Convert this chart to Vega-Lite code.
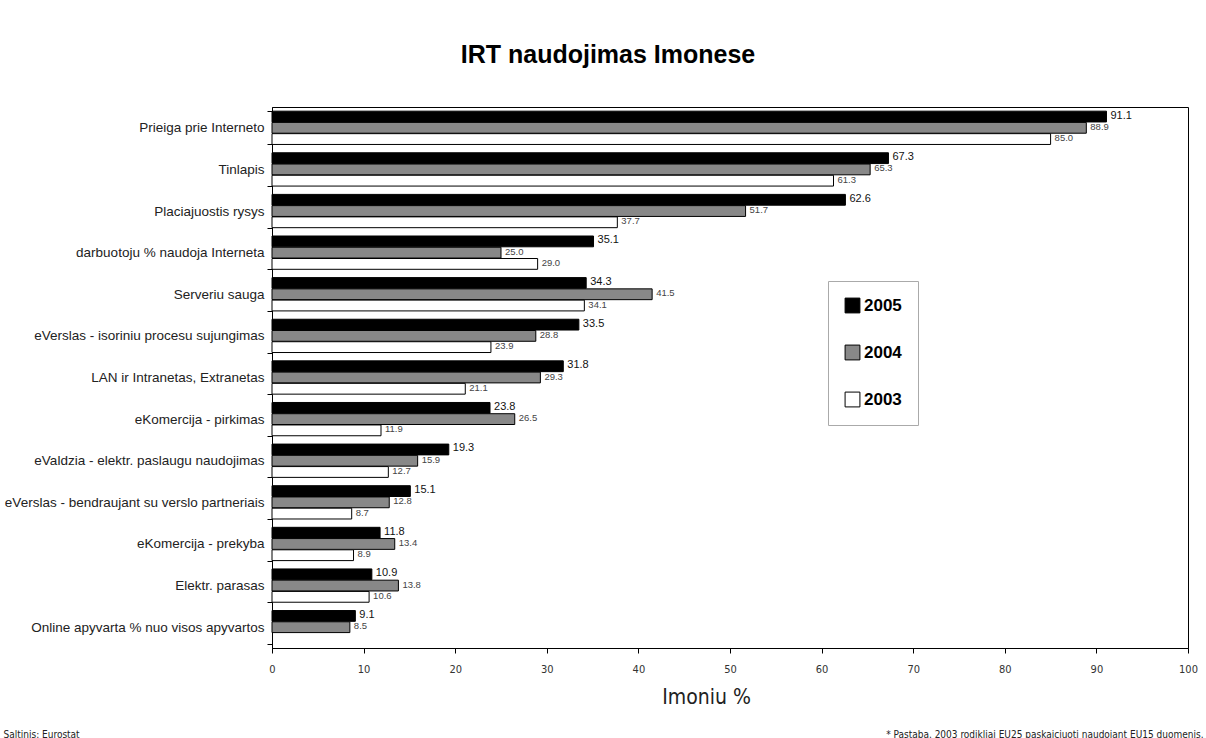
{
  "$schema": "https://vega.github.io/schema/vega-lite/v6.json",
  "autosize": {"type": "none"},
  "padding": {"left": 272, "top": 107, "right": 18, "bottom": 90},
  "width": 916,
  "height": 541,
  "background": "white",
  "config": {"font": "Liberation Sans", "view": {"stroke": "black", "strokeWidth": 1}},
  "title": {"text": "IRT naudojimas Imonese", "fontSize": 25, "fontWeight": "bold", "font": "Liberation Sans", "anchor": "middle", "dx": -122, "offset": 12, "baseline": "alphabetic", "color": "black"},
  "data": {"values": [
    {"category": "Prieiga prie Interneto", "year": "2005", "value": 91.1},
    {"category": "Prieiga prie Interneto", "year": "2004", "value": 88.9},
    {"category": "Prieiga prie Interneto", "year": "2003", "value": 85.0},
    {"category": "Tinlapis", "year": "2005", "value": 67.3},
    {"category": "Tinlapis", "year": "2004", "value": 65.3},
    {"category": "Tinlapis", "year": "2003", "value": 61.3},
    {"category": "Placiajuostis rysys", "year": "2005", "value": 62.6},
    {"category": "Placiajuostis rysys", "year": "2004", "value": 51.7},
    {"category": "Placiajuostis rysys", "year": "2003", "value": 37.7},
    {"category": "darbuotoju % naudoja Interneta", "year": "2005", "value": 35.1},
    {"category": "darbuotoju % naudoja Interneta", "year": "2004", "value": 25.0},
    {"category": "darbuotoju % naudoja Interneta", "year": "2003", "value": 29.0},
    {"category": "Serveriu sauga", "year": "2005", "value": 34.3},
    {"category": "Serveriu sauga", "year": "2004", "value": 41.5},
    {"category": "Serveriu sauga", "year": "2003", "value": 34.1},
    {"category": "eVerslas - isoriniu procesu sujungimas", "year": "2005", "value": 33.5},
    {"category": "eVerslas - isoriniu procesu sujungimas", "year": "2004", "value": 28.8},
    {"category": "eVerslas - isoriniu procesu sujungimas", "year": "2003", "value": 23.9},
    {"category": "LAN ir Intranetas, Extranetas", "year": "2005", "value": 31.8},
    {"category": "LAN ir Intranetas, Extranetas", "year": "2004", "value": 29.3},
    {"category": "LAN ir Intranetas, Extranetas", "year": "2003", "value": 21.1},
    {"category": "eKomercija - pirkimas", "year": "2005", "value": 23.8},
    {"category": "eKomercija - pirkimas", "year": "2004", "value": 26.5},
    {"category": "eKomercija - pirkimas", "year": "2003", "value": 11.9},
    {"category": "eValdzia - elektr. paslaugu naudojimas", "year": "2005", "value": 19.3},
    {"category": "eValdzia - elektr. paslaugu naudojimas", "year": "2004", "value": 15.9},
    {"category": "eValdzia - elektr. paslaugu naudojimas", "year": "2003", "value": 12.7},
    {"category": "eVerslas - bendraujant su verslo partneriais", "year": "2005", "value": 15.1},
    {"category": "eVerslas - bendraujant su verslo partneriais", "year": "2004", "value": 12.8},
    {"category": "eVerslas - bendraujant su verslo partneriais", "year": "2003", "value": 8.7},
    {"category": "eKomercija - prekyba", "year": "2005", "value": 11.8},
    {"category": "eKomercija - prekyba", "year": "2004", "value": 13.4},
    {"category": "eKomercija - prekyba", "year": "2003", "value": 8.9},
    {"category": "Elektr. parasas", "year": "2005", "value": 10.9},
    {"category": "Elektr. parasas", "year": "2004", "value": 13.8},
    {"category": "Elektr. parasas", "year": "2003", "value": 10.6},
    {"category": "Online apyvarta % nuo visos apyvartos", "year": "2005", "value": 9.1},
    {"category": "Online apyvarta % nuo visos apyvartos", "year": "2004", "value": 8.5}
  ]},
  "encoding": {
    "y": {
      "field": "category", "type": "nominal", "sort": null,
      "scale": {"paddingInner": 0.2, "paddingOuter": 0.1},
      "axis": {"title": null, "labelFontSize": 13.5, "labelColor": "#222", "labelFont": "Liberation Sans", "tickBand": "extent", "tickSize": 5, "tickColor": "black", "domainColor": "black", "labelPadding": 3, "labelLimit": 300}
    },
    "yOffset": {"field": "year", "type": "nominal", "sort": ["2005", "2004", "2003"], "scale": {"paddingInner": 0.04}},
    "x": {"field": "value", "type": "quantitative", "scale": {"domain": [0, 100]}}
  },
  "layer": [
    {
      "mark": {"type": "bar", "stroke": "black", "strokeWidth": 1},
      "encoding": {
        "x": {"field": "value", "type": "quantitative", "scale": {"domain": [0, 100]},
          "axis": {"orient": "bottom", "values": [0, 10, 20, 30, 40, 50, 60, 70, 80, 90, 100], "grid": false, "title": "Imoniu %", "titleFontSize": 21, "titleFontWeight": "normal", "titleFont": "DejaVu Sans Condensed, Liberation Sans, sans-serif", "titleColor": "#222", "titlePadding": 12, "titleX": 434, "labelFontSize": 11, "labelFont": "DejaVu Sans Condensed, Liberation Sans, sans-serif", "labelColor": "#333", "labelFlush": false, "labelPadding": 10, "tickSize": 5, "tickColor": "black", "domainColor": "black"}},
        "color": {"field": "year", "type": "nominal",
          "scale": {"domain": ["2005", "2004", "2003"], "range": ["#000000", "#888888", "#ffffff"]},
          "legend": {"orient": "none", "legendX": 556, "legendY": 174, "title": null, "labelFontSize": 17, "labelFontWeight": "bold", "labelFont": "Liberation Sans", "labelColor": "black", "symbolType": "square", "symbolSize": 220, "symbolStrokeColor": "black", "symbolStrokeWidth": 1, "symbolOpacity": 1, "rowPadding": 28, "padding": 16, "fillColor": "white", "strokeColor": "#aaaaaa", "labelOffset": 3}}
      }
    },
    {
      "transform": [{"filter": "datum.year == '2005'"}],
      "mark": {"type": "text", "align": "left", "baseline": "middle", "dx": 4, "dy": -1, "fontSize": 11, "color": "#111"},
      "encoding": {
        "x": {"field": "value", "type": "quantitative", "scale": {"domain": [0, 100]},
          "axis": {"orient": "bottom", "domain": false, "ticks": false, "labels": false, "grid": false, "title": "Saltinis:  Eurostat", "titleX": -269, "titleY": 89, "titleAlign": "left", "titleAnchor": null, "titleBaseline": "alphabetic", "titleFontSize": 10, "titleFontWeight": "normal", "titleFont": "DejaVu Sans Condensed, Liberation Sans, sans-serif", "titleColor": "#222"}},
        "text": {"field": "value", "type": "quantitative", "format": ".1f"}
      }
    },
    {
      "transform": [{"filter": "datum.year != '2005'"}],
      "mark": {"type": "text", "align": "left", "baseline": "middle", "dx": 4, "dy": -1, "fontSize": 9.5, "color": "#444"},
      "encoding": {
        "x": {"field": "value", "type": "quantitative", "scale": {"domain": [0, 100]},
          "axis": {"orient": "bottom", "domain": false, "ticks": false, "labels": false, "grid": false, "title": "* Pastaba. 2003 rodikliai EU25 paskaiciuoti naudojant EU15 duomenis.", "titleX": 931, "titleY": 89, "titleAlign": "right", "titleAnchor": null, "titleBaseline": "alphabetic", "titleFontSize": 10, "titleFontWeight": "normal", "titleFont": "DejaVu Sans Condensed, Liberation Sans, sans-serif", "titleColor": "#222"}},
        "text": {"field": "value", "type": "quantitative", "format": ".1f"}
      }
    }
  ],
  "resolve": {"axis": {"x": "independent"}}
}
